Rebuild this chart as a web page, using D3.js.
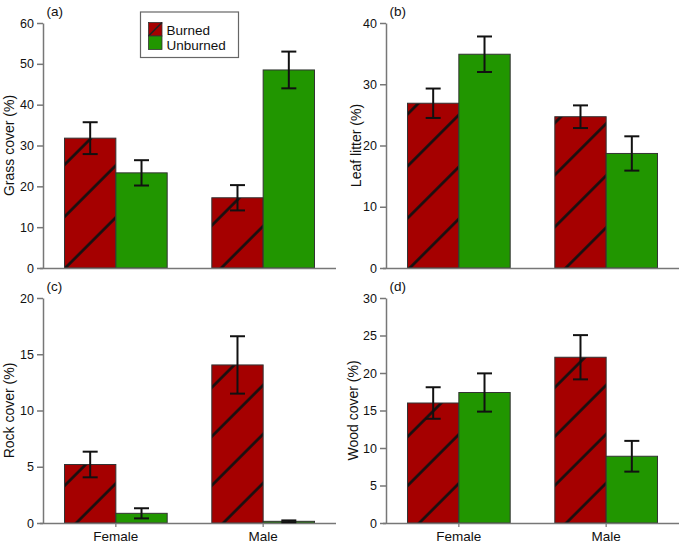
<!DOCTYPE html>
<html>
<head>
<meta charset="utf-8">
<script src="https://cdn.jsdelivr.net/npm/d3@7"></script>
<style>
  html, body { margin: 0; padding: 0; background: #fff; }
  svg { display: block; font-family: "Liberation Sans", Arial, Helvetica, sans-serif; }
</style>
</head>
<body>
<svg id="chart" width="685" height="548"></svg>
<script>
// ---- data ----
const groups = ["Female", "Male"];
const treatments = ["Burned", "Unburned"];

const grassBurned = [31.8, 17.2];
const grassBurnedSE = [3.9, 3.1];
const grassUnburned = [23.3, 48.5];
const grassUnburnedSE = [3.1, 4.5];

const litterBurned = [26.9, 24.7];
const litterBurnedSE = [2.4, 1.85];
const litterUnburned = [34.9, 18.7];
const litterUnburnedSE = [2.9, 2.8];

const rockBurned = [5.2, 14.05];
const rockBurnedSE = [1.14, 2.55];
const rockUnburned = [0.86, 0.15];
const rockUnburnedSE = [0.45, 0.08];

const woodBurned = [16.0, 22.1];
const woodBurnedSE = [2.1, 2.95];
const woodUnburned = [17.4, 8.9];
const woodUnburnedSE = [2.55, 2.05];

const grassTicks = [0, 10, 20, 30, 40, 50, 60];
const litterTicks = [0, 10, 20, 30, 40];
const rockTicks = [0, 5, 10, 15, 20];
const woodTicks = [0, 5, 10, 15, 20, 25, 30];

// ---- layout / style ----
const RED = "#a50000", GREEN = "#219600";
const svg = d3.select("#chart");
const defs = svg.append("defs");

const panels = [
  {id: "a", tag: "(a)", title: "Grass cover (%)", burned: grassBurned, bse: grassBurnedSE, unburned: grassUnburned, use: grassUnburnedSE, ticks: grassTicks,
   x0: 43, x1: 336, yTop: 23, yBot: 268, titleX: 13.5, tagY: 16, P: 52, phase: 21.3, xlabels: false},
  {id: "b", tag: "(b)", title: "Leaf litter (%)", burned: litterBurned, bse: litterBurnedSE, unburned: litterUnburned, use: litterUnburnedSE, ticks: litterTicks,
   x0: 386, x1: 679, yTop: 23, yBot: 268, titleX: 361, tagY: 16, P: 52, phase: 1.7, xlabels: false},
  {id: "c", tag: "(c)", title: "Rock cover (%)", burned: rockBurned, bse: rockBurnedSE, unburned: rockUnburned, use: rockUnburnedSE, ticks: rockTicks,
   x0: 43, x1: 336, yTop: 298, yBot: 523, titleX: 13.5, tagY: 290.5, P: 49, phase: 11.3, xlabels: true},
  {id: "d", tag: "(d)", title: "Wood cover (%)", burned: woodBurned, bse: woodBurnedSE, unburned: woodUnburned, use: woodUnburnedSE, ticks: woodTicks,
   x0: 386, x1: 679, yTop: 298, yBot: 523, titleX: 358, tagY: 290.5, P: 49, phase: 11.3, xlabels: true}
];

panels.forEach(p => {
  // hatch pattern: lines x + y = phase + k*P (45 degrees)
  const s = p.P / Math.SQRT2;
  const pat = defs.append("pattern")
    .attr("id", "hatch-" + p.id)
    .attr("patternUnits", "userSpaceOnUse")
    .attr("width", 20).attr("height", s)
    .attr("patternTransform", `translate(${p.phase - p.P / 2},0) rotate(-45)`);
  pat.append("rect").attr("x", -1).attr("y", -1).attr("width", 22).attr("height", s + 2).attr("fill", RED);
  pat.append("rect").attr("x", -1).attr("y", s / 2 - 1.3).attr("width", 22).attr("height", 2.6).attr("fill", "#111");

  const x = d3.scaleBand().domain(groups).range([p.x0, p.x1]).paddingInner(0.303).paddingOuter(0.146);
  const xi = d3.scaleBand().domain(treatments).range([0, x.bandwidth()]).padding(0);
  const y = d3.scaleLinear().domain([0, d3.max(p.ticks)]).range([p.yBot, p.yTop]);

  const g = svg.append("g");

  const rows = [];
  groups.forEach((grp, i) => {
    rows.push({grp, t: "Burned", v: p.burned[i], se: p.bse[i]});
    rows.push({grp, t: "Unburned", v: p.unburned[i], se: p.use[i]});
  });

  // bars
  g.selectAll("rect.bar").data(rows).join("rect")
    .attr("class", "bar")
    .attr("x", d => x(d.grp) + xi(d.t))
    .attr("width", xi.bandwidth())
    .attr("y", d => y(d.v))
    .attr("height", d => y(0) - y(d.v))
    .attr("fill", d => d.t === "Burned" ? `url(#hatch-${p.id})` : GREEN)
    .attr("stroke", "#333")
    .attr("stroke-width", 1);

  // y axis
  const ya = g.append("g").attr("transform", `translate(${p.x0},0)`)
    .call(d3.axisLeft(y).tickValues(p.ticks).tickSize(6).tickSizeOuter(0).tickPadding(3));
  ya.select(".domain").attr("stroke", "#777").attr("stroke-width", 1.5);
  ya.selectAll(".tick line").attr("stroke", "#777").attr("stroke-width", 1.5);
  ya.selectAll(".tick text").attr("font-size", 12.5).attr("fill", "#111").attr("font-family", null);

  // x axis
  const xa = g.append("g").attr("transform", `translate(0,${p.yBot})`)
    .call(d3.axisBottom(x).tickSize(p.xlabels ? 4 : 0).tickSizeOuter(0).tickPadding(4)
      .tickFormat(p.xlabels ? (d => d) : () => ""));
  xa.select(".domain").attr("stroke", "#777").attr("stroke-width", 1.5)
    .attr("d", `M${p.x0 - 3},0.5H${p.x1}`);
  xa.selectAll(".tick line").attr("stroke", "#777").attr("stroke-width", 1.2);
  xa.selectAll(".tick text").attr("font-size", 13.5).attr("fill", "#111").attr("font-family", null);

  // error bars
  const cap = 7.5;
  const eb = g.append("g").attr("stroke", "#111").attr("stroke-width", 2).attr("fill", "none");
  rows.forEach(d => {
    const cx = x(d.grp) + xi(d.t) + xi.bandwidth() / 2;
    eb.append("line").attr("x1", cx).attr("x2", cx).attr("y1", y(d.v + d.se)).attr("y2", y(d.v - d.se));
    eb.append("line").attr("x1", cx - cap).attr("x2", cx + cap).attr("y1", y(d.v + d.se)).attr("y2", y(d.v + d.se));
    eb.append("line").attr("x1", cx - cap).attr("x2", cx + cap).attr("y1", y(d.v - d.se)).attr("y2", y(d.v - d.se));
  });

  // y title
  g.append("text")
    .attr("transform", `translate(${p.titleX},${(p.yTop + p.yBot) / 2}) rotate(-90)`)
    .attr("text-anchor", "middle")
    .attr("font-size", 14).attr("fill", "#111")
    .text(p.title);

  // panel tag
  g.append("text").attr("x", p.x0 + 3.5).attr("y", p.tagY)
    .attr("font-size", 13.5).attr("fill", "#111").text(p.tag);
});

// legend (panel a)
const lg = svg.append("g");
lg.append("rect").attr("x", 140.5).attr("y", 12).attr("width", 98).attr("height", 45.5)
  .attr("fill", "#fff").attr("stroke", "#666").attr("stroke-width", 1.2);
const sw = 13.5;
lg.append("rect").attr("x", 148.5).attr("y", 22.5).attr("width", sw).attr("height", sw)
  .attr("fill", RED).attr("stroke", "#333").attr("stroke-width", 0.8);
lg.append("line").attr("x1", 148.5).attr("y1", 22.5 + sw).attr("x2", 148.5 + sw).attr("y2", 22.5)
  .attr("stroke", "#222").attr("stroke-width", 1.6);
lg.append("rect").attr("x", 148.5).attr("y", 22.5 + sw).attr("width", sw).attr("height", sw)
  .attr("fill", GREEN).attr("stroke", "#333").attr("stroke-width", 0.8);
lg.selectAll("text.lt").data(treatments).join("text")
  .attr("class", "lt")
  .attr("x", 166.5)
  .attr("y", (d, i) => 34.5 + i * 15)
  .attr("font-size", 13.5).attr("fill", "#111")
  .text(d => d);
</script>
</body>
</html>
